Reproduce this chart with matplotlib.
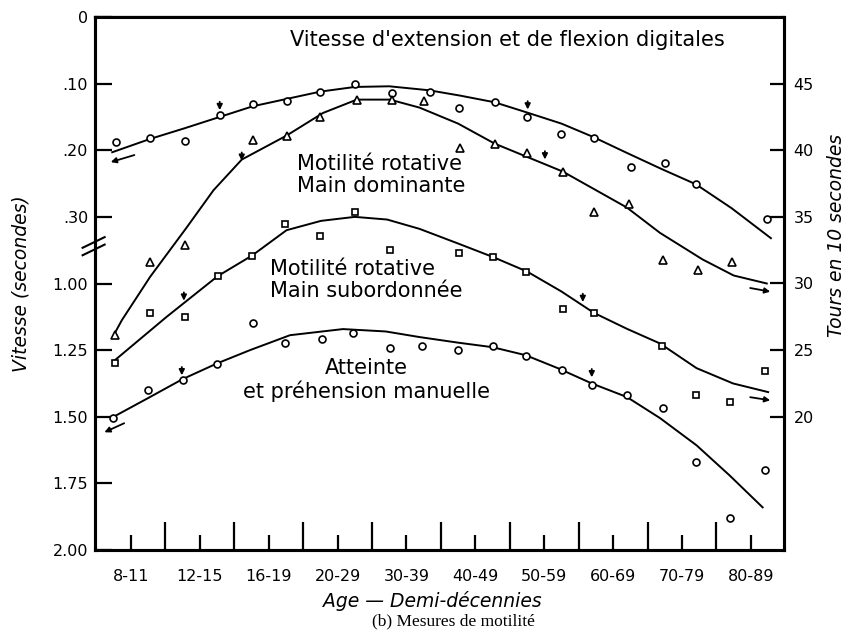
import numpy as np
import matplotlib
matplotlib.use('Agg')
import matplotlib.pyplot as plt

plt.rcParams['font.family'] = ['DejaVu Sans']

age_labels = ['8-11', '12-15', '16-19', '20-29', '30-39', '40-49',
              '50-59', '60-69', '70-79', '80-89']

# Vitesse d'extension et de flexion digitales (secondes, axe gauche)
ext_x = [-0.22, 0.28, 0.78, 1.29, 1.77, 2.26, 2.74, 3.25, 3.79, 4.34,
         4.77, 5.28, 5.75, 6.25, 6.72, 7.26, 7.75, 8.21, 9.23]
ext_y = [0.188, 0.182, 0.186, 0.147, 0.131, 0.126, 0.113, 0.101, 0.114, 0.113,
         0.137, 0.128, 0.150, 0.176, 0.182, 0.225, 0.219, 0.251, 0.303]
ext_fit_x = [-0.27, 0.28, 0.78, 1.29, 1.77, 2.26, 2.75, 3.25, 3.75, 4.33,
             4.78, 5.28, 5.74, 6.25, 6.71, 7.2, 7.7, 8.2, 8.72, 9.29]
ext_fit_y = [0.203, 0.183, 0.167, 0.150, 0.134, 0.123, 0.112, 0.105, 0.104, 0.110,
             0.118, 0.128, 0.143, 0.160, 0.180, 0.204, 0.228, 0.251, 0.287, 0.332]

# Motilité rotative, main dominante (tours, axe droit)
dom_x = [-0.23, 0.28, 0.78, 1.77, 2.26, 2.74, 3.28, 3.79, 4.26, 4.78,
         5.28, 5.75, 6.27, 6.72, 7.23, 7.72, 8.23, 8.72]
dom_y = [26.1, 31.6, 32.9, 40.8, 41.1, 42.5, 43.8, 43.8, 43.7, 40.2,
         40.5, 39.8, 38.4, 35.4, 36.0, 31.8, 31.0, 31.6]
dom_fit_x = [-0.23, -0.13, 0.28, 0.81, 1.2, 1.61, 2.26, 2.79, 3.28, 3.76,
             4.19, 4.75, 5.28, 6.27, 7.2, 7.68, 8.3, 8.75, 9.23]
dom_fit_y = [26.3, 27.25, 30.5, 34.2, 37.0, 39.3, 41.1, 42.8, 43.8, 43.8,
             43.2, 42.0, 40.5, 38.4, 35.7, 33.8, 31.8, 30.6, 30.0]

# Motilité rotative, main subordonnée (tours, axe droit)
sub_x = [-0.23, 0.28, 0.78, 1.26, 1.76, 2.24, 2.75, 3.26, 3.76, 4.76,
         5.25, 5.74, 6.27, 6.72, 7.71, 8.21, 8.69, 9.20]
sub_y = [24.0, 27.8, 27.5, 30.6, 32.1, 34.5, 33.6, 35.4, 32.5, 32.3,
         32.0, 30.9, 28.1, 27.8, 25.3, 21.6, 21.1, 23.4]
sub_fit_x = [-0.23, 0.52, 1.26, 1.76, 2.26, 2.76, 3.25, 3.72, 4.19, 4.75,
             5.25, 5.75, 6.25, 6.72, 7.2, 7.68, 8.21, 8.74, 9.25]
sub_fit_y = [24.25, 27.5, 30.55, 32.1, 34.0, 34.7, 35.0, 34.8, 34.1, 33.0,
             32.0, 30.9, 29.4, 27.8, 26.6, 25.5, 23.65, 22.5, 21.85]

# Atteinte et préhension manuelle (secondes, axe gauche)
att_x = [-0.26, 0.25, 0.75, 1.25, 1.77, 2.24, 2.77, 3.22, 3.76, 4.22,
         4.75, 5.25, 5.73, 6.26, 6.69, 7.20, 7.72, 8.21, 8.69, 9.20]
att_y = [1.505, 1.40, 1.3625, 1.303, 1.148, 1.223, 1.208, 1.186, 1.243, 1.235,
         1.25, 1.235, 1.273, 1.325, 1.382, 1.42, 1.468, 1.67, 1.88, 1.70]
att_fit_x = [-0.26, 0.25, 0.75, 1.25, 1.73, 2.31, 3.08, 3.7, 4.19, 4.75,
             5.25, 5.73, 6.2, 6.69, 7.2, 7.68, 8.21, 8.69, 9.17]
att_fit_y = [1.5015, 1.43, 1.359, 1.30, 1.25, 1.194, 1.171, 1.180, 1.201, 1.222,
             1.239, 1.269, 1.318, 1.375, 1.426, 1.505, 1.607, 1.72, 1.84]

# petites flèches (x, valeur pointée)
ext_arrows = [(1.29, 0.144), (5.76, 0.143)]
att_arrows = [(0.74, 1.355), (6.69, 1.3625)]
dom_arrows = [(1.61, 39.0), (6.01, 39.1)]
sub_arrows = [(0.77, 28.5), (6.56, 28.4)]

left_ticks = [0, 0.10, 0.20, 0.30, 1.00, 1.25, 1.50, 1.75, 2.00]
left_labels = ['0', '.10', '.20', '.30', '1.00', '1.25', '1.50', '1.75', '2.00']
right_ticks = [20, 25, 30, 35, 40, 45]


# echelle gauche coupée: 0-.35 puis 1.00-2.00
def fwd(s):
    return np.interp(s, [0, 0.35, 1.0, 2.0], [0, 3.5, 4.0, 8.0])


def inv(p):
    return np.interp(p, [0, 3.5, 4.0, 8.0], [0, 0.35, 1.0, 2.0])


fig = plt.figure(figsize=(8.48, 6.35), dpi=100)
ax = fig.add_axes([95 / 848, 85 / 635, 689 / 848, 533 / 635])
ax.set_yscale('function', functions=(fwd, inv))
ax.set_ylim(2.0, 0.0)
ax.set_xlim(-0.52, 9.48)
ax2 = ax.twinx()
ax2.set_ylim(10, 50)

mk = dict(linestyle='none', markerfacecolor='white', markeredgecolor='black',
          markeredgewidth=1.2, zorder=4)
ln = dict(color='black', linewidth=1.4, zorder=3, solid_joinstyle='round')

ax.plot(ext_fit_x, ext_fit_y, **ln)
ax.plot(ext_x, ext_y, marker='o', markersize=5, **mk)
ax.plot(att_fit_x, att_fit_y, **ln)
ax.plot(att_x, att_y, marker='o', markersize=5, **mk)
ax2.plot(dom_fit_x, dom_fit_y, **ln)
ax2.plot(dom_x, dom_y, marker='^', markersize=6, **mk)
ax2.plot(sub_fit_x, sub_fit_y, **ln)
ax2.plot(sub_x, sub_y, marker='s', markersize=4.5, **mk)

arr = dict(arrowstyle='-|>', color='black', lw=1.3, mutation_scale=8)
for a, pts in ((ax, ext_arrows), (ax, att_arrows), (ax2, dom_arrows), (ax2, sub_arrows)):
    for x, y in pts:
        a.annotate('', xy=(x, y), xytext=(0, 10), textcoords='offset points',
                   arrowprops=arr, zorder=5)

# flèches de renvoi vers les axes
ax.annotate('', xy=(-0.33, 0.219), xytext=(0.09, 0.206), arrowprops=arr)
ax.plot([-0.52, -0.30], [0.200, 0.200], color='black', lw=1.2, linestyle=(0, (3, 3)))
ax.annotate('', xy=(-0.42, 1.5625), xytext=(-0.06, 1.52), arrowprops=arr)
ax2.annotate('', xy=(9.32, 29.35), xytext=(8.95, 29.7), arrowprops=arr)
ax2.annotate('', xy=(9.32, 21.2), xytext=(8.95, 21.5), arrowprops=arr)

# coupure de l'axe gauche
for dy in (0.0, 0.014):
    ax.plot([-0.018, 0.014], [0.553 + dy, 0.573 + dy], transform=ax.transAxes,
            color='black', lw=1.5, clip_on=False)

txt = dict(fontsize=15, color='black')
ax2.text(5.47, 48.27, "Vitesse d'extension et de flexion digitales", ha='center', va='center', **txt)
ax2.text(2.41, 38.15, 'Motilité rotative\nMain dominante', ha='left', va='center',
         linespacing=1.15, **txt)
ax2.text(2.02, 30.25, 'Motilité rotative\nMain subordonnée', ha='left', va='center',
         linespacing=1.15, **txt)
ax2.text(3.42, 22.75, 'Atteinte\net préhension manuelle', ha='center', va='center',
         linespacing=1.15, **txt)

ax.set_yticks(left_ticks)
ax.set_yticklabels(left_labels)
ax.set_xticks(range(len(age_labels)))
ax.set_xticklabels(age_labels)
ax.set_xticks(np.arange(0.5, 9, 1.0), minor=True)
ax2.set_yticks(right_ticks)
ax2.yaxis.set_minor_locator(matplotlib.ticker.NullLocator())
ax.yaxis.set_minor_locator(matplotlib.ticker.NullLocator())

ax.tick_params(axis='x', which='major', direction='in', length=11, width=1.6,
               labelsize=11.5, pad=14)
ax.tick_params(axis='x', which='minor', direction='in', length=20, width=1.6)
ax.tick_params(axis='y', direction='in', length=12, width=1.6, labelsize=11.5, pad=5)
ax2.tick_params(axis='y', direction='in', length=10, width=1.6, labelsize=11.5, pad=7)

for a in (ax, ax2):
    for s in a.spines.values():
        s.set_linewidth(2.2)
ax.spines['top'].set_linewidth(1.6)

ax.set_ylabel('Vitesse (secondes)', fontsize=13.5, style='italic')
ax.yaxis.set_label_coords(-0.094, 0.5)
ax2.set_ylabel('Tours en 10 secondes', fontsize=13.5, style='italic')
ax2.yaxis.set_label_coords(1.062, 0.59)
ax.set_xlabel('Age — Demi-décennies', fontsize=13.5, style='italic')
ax.xaxis.set_label_coords(0.49, -0.076)
fig.text(0.535, 0.022, '(b) Mesures de motilité', fontsize=12.5,
         family='Liberation Serif', ha='center', va='center')

fig.savefig('out.png', dpi=100)
